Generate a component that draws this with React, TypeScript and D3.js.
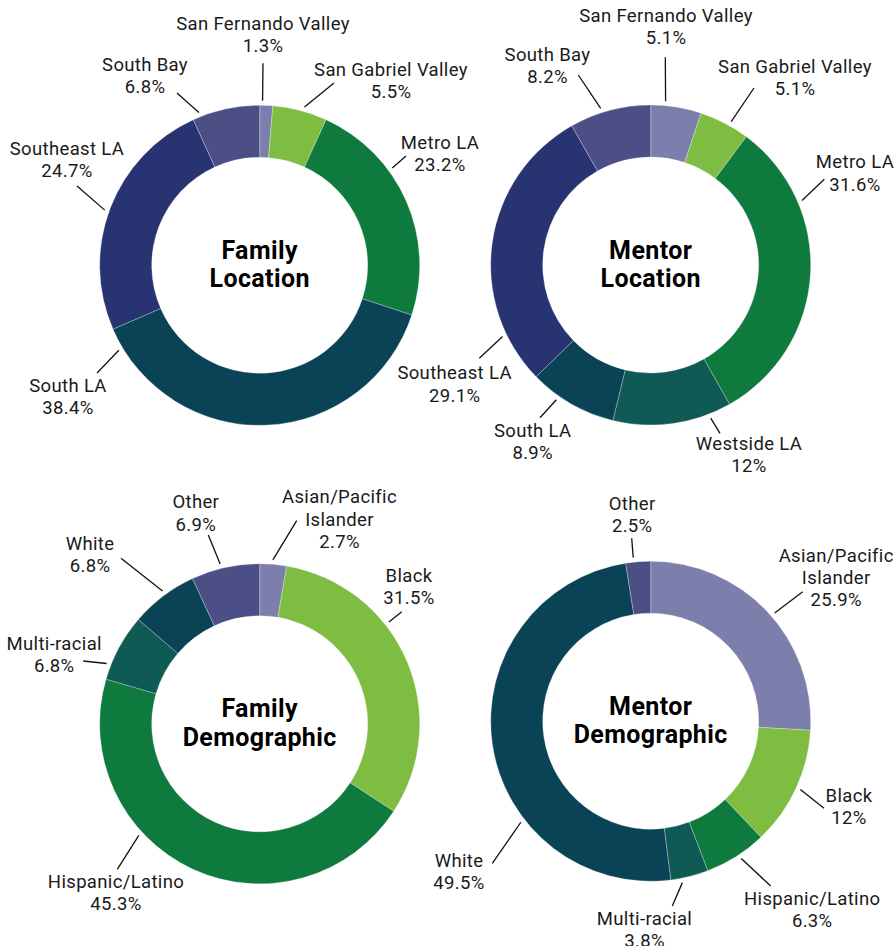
import React from "react";
import * as d3 from "d3";

// ---------- data ----------
const familyLocationCategories = ["San Fernando Valley", "San Gabriel Valley", "Metro LA", "South LA", "Southeast LA", "South Bay"];
const familyLocationValues = [1.3, 5.5, 23.2, 38.4, 24.7, 6.8];

const mentorLocationCategories = ["San Fernando Valley", "San Gabriel Valley", "Metro LA", "Westside LA", "South LA", "Southeast LA", "South Bay"];
const mentorLocationValues = [5.1, 5.1, 31.6, 12, 8.9, 29.1, 8.2];

const demographicCategories = ["Asian/Pacific Islander", "Black", "Hispanic/Latino", "Multi-racial", "White", "Other"];
const familyDemographicValues = [2.7, 31.5, 45.3, 6.8, 6.8, 6.9];
const mentorDemographicValues = [25.9, 12, 6.3, 3.8, 49.5, 2.5];

const chartTitles = [["Family", "Location"], ["Mentor", "Location"], ["Family", "Demographic"], ["Mentor", "Demographic"]];

// ---------- styles ----------
const colorByCategory: Record<string, string> = {
  "San Fernando Valley": "#7c7fab",
  "Asian/Pacific Islander": "#7c7fab",
  "San Gabriel Valley": "#7fbd42",
  "Black": "#7fbd42",
  "Metro LA": "#0f7a3d",
  "Hispanic/Latino": "#0f7a3d",
  "Westside LA": "#0f5a55",
  "Multi-racial": "#0f5a55",
  "South LA": "#0b4356",
  "White": "#0b4356",
  "Southeast LA": "#283372",
  "South Bay": "#4b4f86",
  "Other": "#4b4f86",
};

// label layout: [ring anchor angle (deg), leader end dx, dy, label dx, label baseline dy] relative to donut centre
const familyLocationLabelLayout = [
  [1.0, 3.3, -202, 3.3, -235.3],
  [15.8, 74.3, -182.3, 131.3, -189.3],
  [53.7, 146.3, -109.3, 180.3, -116.3],
  [238.9, -162.7, 107.7, -191.7, 126.7],
  [289.6, -182.7, -79.3, -192.7, -110.3],
  [338.3, -82.7, -172.3, -114.7, -194.3],
];
const mentorLocationLabelLayout = [
  [5.2, 14.6, -207.7, 15.3, -243],
  [29.3, 103.3, -177, 144.3, -192],
  [66.9, 173.6, -85.7, 204.3, -96.7],
  [158.6, 69.3, 168.3, 98.3, 185],
  [215, -110.7, 152.7, -118, 171.7],
  [244.2, -171.4, 93.3, -196.1, 114.3],
  [342.3, -72.4, -190, -103.2, -204.5],
];
const familyDemographicLabelLayout = [
  [4.6, 37, -203.1, 79.8, -220.5],
  [51.8, 142, -112.1, 149.3, -142.1],
  [227.3, -142.4, 145.5, -143.7, 163.9],
  [291.5, -176.4, -62.8, -205.5, -73.8],
  [323.8, -138.7, -165.5, -169.7, -173.8],
  [346.1, -51.4, -188.8, -63.9, -215.5],
];
const mentorDemographicLabelLayout = [
  [48.9, 152, -129.5, 185.5, -159.5],
  [114.5, 173.3, 87.1, 198.3, 80.5],
  [146.6, 120, 164.8, 161.5, 183.8],
  [168.9, 21.6, 184.8, -6.2, 203.8],
  [232.1, -158.4, 142.1, -191.7, 145.5],
  [353.9, -19, -182.9, -18.5, -211.2],
];

const WIDTH = 895;
const HEIGHT = 946;
const OUTER = 160;
const INNER = 108;
const FONT = "Roboto, 'Noto Sans', sans-serif";
const LABEL_SIZE = 18.5;
const LABEL_SPACING = 0.35;
const LINE_GAP = 22.3;
const TITLE_SIZE = 25;
const TITLE_SPACING = 0.4;

const panels = [
  { cx: 259.7, cy: 265.3, cats: familyLocationCategories, vals: familyLocationValues, layout: familyLocationLabelLayout, title: chartTitles[0] },
  { cx: 650.7, cy: 265, cats: mentorLocationCategories, vals: mentorLocationValues, layout: mentorLocationLabelLayout, title: chartTitles[1] },
  { cx: 259.7, cy: 723.8, cats: demographicCategories, vals: familyDemographicValues, layout: familyDemographicLabelLayout, title: chartTitles[2] },
  { cx: 650.7, cy: 721.2, cats: demographicCategories, vals: mentorDemographicValues, layout: mentorDemographicLabelLayout, title: chartTitles[3] },
];

function splitName(name: string): string[] {
  if (name.length > 20) {
    const i = name.lastIndexOf(" ");
    return [name.slice(0, i), name.slice(i + 1)];
  }
  return [name];
}

function Donut({ cx, cy, cats, vals, layout, title }: any) {
  const pie = d3.pie<number>().sort(null).value((d) => d);
  const arcs = pie(vals);
  const arc = d3.arc<d3.PieArcDatum<number>>().innerRadius(INNER).outerRadius(OUTER);
  return (
    <g transform={`translate(${cx},${cy})`}>
      {arcs.map((a, i) => (
        <path key={i} d={arc(a) || ""} fill={colorByCategory[cats[i]]} stroke="#ffffff" strokeOpacity={0.45} strokeWidth={0.6} />
      ))}
      {arcs.map((a, i) => {
        const [ang, ex, ey, lx, ly] = layout[i];
        const rad = (ang * Math.PI) / 180;
        const sx = Math.sin(rad) * (OUTER + 4.5);
        const sy = -Math.cos(rad) * (OUTER + 4.5);
        const lines = [...splitName(cats[i]), `${vals[i]}%`];
        return (
          <g key={"l" + i}>
            <line x1={sx} y1={sy} x2={ex} y2={ey} stroke="#111" strokeWidth={1.3} />
            <text x={lx} y={ly} textAnchor="middle" fontFamily={FONT} fontSize={LABEL_SIZE} letterSpacing={LABEL_SPACING} fill="#1a1a1a">
              {lines.map((t, k) => (
                <tspan key={k} x={lx} dy={k === 0 ? 0 : LINE_GAP}>{t}</tspan>
              ))}
            </text>
          </g>
        );
      })}
      <text textAnchor="middle" fontFamily={FONT} fontWeight={700} fontSize={TITLE_SIZE} letterSpacing={TITLE_SPACING} fill="#000">
        <tspan x={0} y={-6.5}>{title[0]}</tspan>
        <tspan x={0} y={22}>{title[1]}</tspan>
      </text>
    </g>
  );
}

export default function App() {
  return (
    <svg width={WIDTH} height={HEIGHT} style={{ position: "absolute", left: 0, top: 0, background: "#fff" }}>
      <rect width={WIDTH} height={HEIGHT} fill="#fff" />
      {panels.map((p, i) => (
        <Donut key={i} {...p} />
      ))}
    </svg>
  );
}
